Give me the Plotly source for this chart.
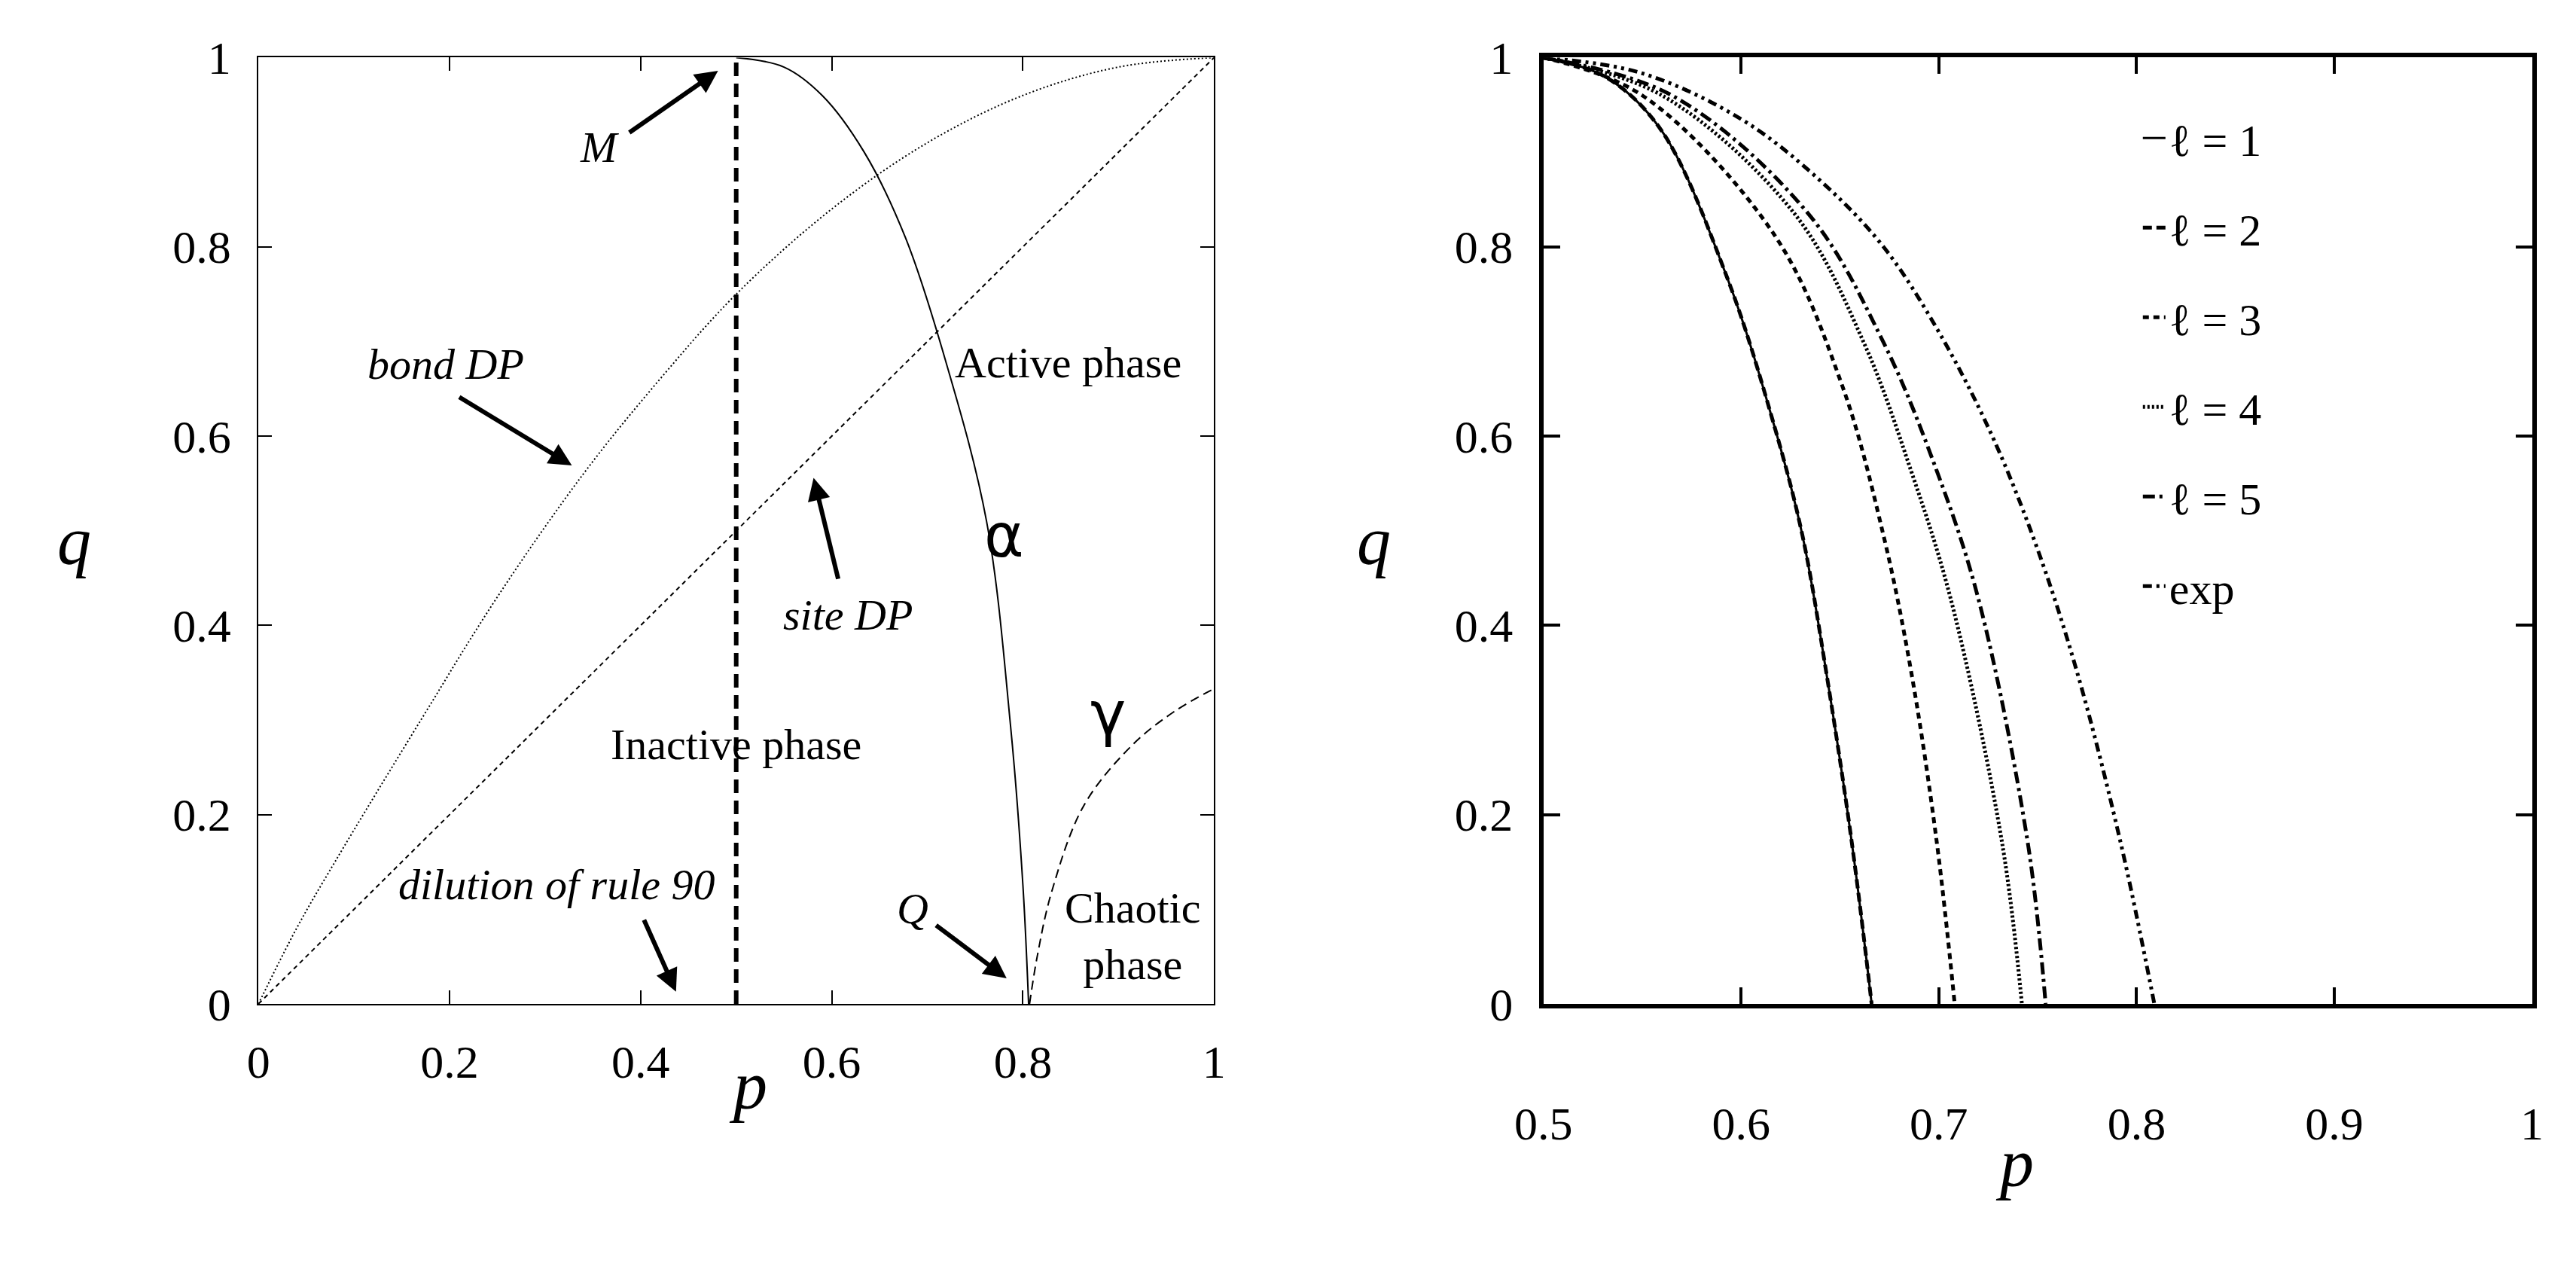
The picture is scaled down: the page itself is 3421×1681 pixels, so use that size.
import plotly.graph_objects as go

# left panel data
bond_p = [0, 0.04, 0.08, 0.17, 0.25, 0.34, 0.42, 0.5, 0.6, 0.7, 0.8, 0.9, 1]
bond_q = [0, 0.08, 0.15, 0.30, 0.43, 0.56, 0.66, 0.75, 0.84, 0.91, 0.96, 0.99, 1]
site_p = [0, 1]
site_q = [0, 1]
alpha_p = [0.5, 0.55, 0.59, 0.634, 0.677, 0.719, 0.762, 0.787, 0.8, 0.806]
alpha_q = [1, 0.99, 0.96, 0.90, 0.81, 0.68, 0.51, 0.295, 0.126, 0]
gamma_p = [0.807, 0.815, 0.83, 0.864, 0.915, 0.96, 1]
gamma_q = [0, 0.05, 0.118, 0.21, 0.274, 0.31, 0.333]
rule90_p = [0.5, 0.5]
rule90_q = [0, 1]

# right panel data
curve_names = ["\u2113 = 1", "\u2113 = 2", "\u2113 = 3", "\u2113 = 4", "\u2113 = 5", "exp"]
curve_p = [
    [0.5, 0.531, 0.559, 0.593, 0.617, 0.631, 0.643, 0.656, 0.666],
    [0.5, 0.531, 0.559, 0.593, 0.617, 0.631, 0.643, 0.656, 0.666],
    [0.5, 0.55, 0.617, 0.651, 0.672, 0.686, 0.699, 0.708],
    [0.5, 0.56, 0.627, 0.662, 0.686, 0.706, 0.732, 0.742],
    [0.5, 0.565, 0.634, 0.672, 0.699, 0.720, 0.745, 0.754],
    [0.5, 0.549, 0.600, 0.640, 0.672, 0.700, 0.727, 0.750, 0.770, 0.792, 0.809],
]
curve_q = [
    [1, 0.98, 0.925, 0.767, 0.609, 0.495, 0.351, 0.17, 0],
    [1, 0.98, 0.925, 0.767, 0.609, 0.495, 0.351, 0.17, 0],
    [1, 0.96, 0.812, 0.654, 0.495, 0.351, 0.17, 0],
    [1, 0.96, 0.835, 0.699, 0.563, 0.428, 0.17, 0],
    [1, 0.96, 0.835, 0.699, 0.563, 0.428, 0.17, 0],
    [1, 0.984, 0.935, 0.87, 0.80, 0.71, 0.60, 0.48, 0.35, 0.17, 0],
]
curve_dash = ["solid", "12px,6px", "8px,6px", "3px,3px", "16px,6px,4px,6px", "12px,6px,4px,6px,4px,6px"]
curve_width = [3, 5, 5, 5, 5, 5]

SERIF = "Liberation Serif"
fig = go.Figure()

fig.add_trace(go.Scatter(x=bond_p, y=bond_q, mode="lines", line=dict(color="black", width=2, dash="2px,3px", shape="spline"), showlegend=False))
fig.add_trace(go.Scatter(x=site_p, y=site_q, mode="lines", line=dict(color="black", width=2, dash="6px,5px"), showlegend=False))
fig.add_trace(go.Scatter(x=alpha_p, y=alpha_q, mode="lines", line=dict(color="black", width=2, shape="spline"), showlegend=False))
fig.add_trace(go.Scatter(x=gamma_p, y=gamma_q, mode="lines", line=dict(color="black", width=2, dash="12px,7px", shape="spline"), showlegend=False))
fig.add_trace(go.Scatter(x=rule90_p, y=rule90_q, mode="lines", line=dict(color="black", width=6, dash="18px,10px"), showlegend=False))

for i in range(len(curve_names)):
    fig.add_trace(go.Scatter(x=curve_p[i], y=curve_q[i], mode="lines", name=curve_names[i],
                             legendgroup=str(i), xaxis="x2", yaxis="y2",
                             line=dict(color="black", width=curve_width[i], dash=curve_dash[i], shape="spline")))

ax_common = dict(showgrid=False, zeroline=False, ticks="inside", mirror="allticks", showline=True,
                 linecolor="black", tickcolor="black", ticklabelstandoff=22,
                 tickfont=dict(family=SERIF, size=62, color="black"))
fig.update_layout(
    width=3421, height=1681, plot_bgcolor="white", paper_bgcolor="white",
    margin=dict(l=0, r=0, t=0, b=0),
    xaxis=dict(domain=[0.088, 0.465], range=[0, 1], tickvals=[0, 0.2, 0.4, 0.6, 0.8, 1],
               ticktext=["0", "0.2", "0.4", "0.6", "0.8", "1"], linewidth=2, tickwidth=2, ticklen=18, **ax_common),
    yaxis=dict(domain=[0.199, 0.978], range=[0, 1], tickvals=[0, 0.2, 0.4, 0.6, 0.8, 1],
               ticktext=["0", "0.2", "0.4", "0.6", "0.8", "1"], linewidth=2, tickwidth=2, ticklen=18, **ax_common),
    xaxis2=dict(domain=[0.595, 0.985], range=[0.5, 1], anchor="y2", tickvals=[0.5, 0.6, 0.7, 0.8, 0.9, 1],
                ticktext=["0.5", "0.6", "0.7", "0.8", "0.9", "1"], linewidth=6, tickwidth=4, ticklen=22, **ax_common),
    yaxis2=dict(domain=[0.199, 0.978], range=[0, 1], anchor="x2", tickvals=[0, 0.2, 0.4, 0.6, 0.8, 1],
                ticktext=["0", "0.2", "0.4", "0.6", "0.8", "1"], linewidth=6, tickwidth=4, ticklen=22, **ax_common),
    legend=dict(x=0.83, y=0.94, xanchor="left", yanchor="top", bgcolor="rgba(0,0,0,0)",
                font=dict(family=SERIF, size=60, color="black"), tracegroupgap=38, itemwidth=30),
)
fig.update_xaxes(ticklabelstandoff=100, selector=dict(anchor="y2"))

ann = []
def txt(x, y, s, size=58, italic=False, family=SERIF, xref="x", yref="y"):
    if italic:
        s = "<i>" + s + "</i>"
    ann.append(dict(x=x, y=y, xref=xref, yref=yref, text=s, showarrow=False,
                    font=dict(family=family, size=size, color="black")))

def arrow(x0, y0, x1, y1):
    ann.append(dict(x=x1, y=y1, ax=x0, ay=y0, xref="x", yref="y", axref="x", ayref="y",
                    text="", showarrow=True, arrowhead=2, arrowsize=1, arrowwidth=6, arrowcolor="black"))

txt(0.357, 0.905, "M", italic=True)
arrow(0.387, 0.92, 0.481, 0.986)
txt(0.196, 0.676, "bond DP", italic=True)
arrow(0.209, 0.642, 0.328, 0.569)
txt(0.617, 0.411, "site DP", italic=True)
arrow(0.607, 0.448, 0.581, 0.556)
txt(0.847, 0.678, "Active phase")
txt(0.78, 0.495, "\u03b1", size=80, family="DejaVu Sans")
txt(0.889, 0.307, "\u03b3", size=80, family="DejaVu Sans")
txt(0.5, 0.274, "Inactive phase")
txt(0.312, 0.126, "dilution of rule 90", italic=True)
arrow(0.403, 0.09, 0.437, 0.013)
txt(0.685, 0.101, "Q", italic=True)
arrow(0.708, 0.084, 0.783, 0.027)
txt(0.915, 0.072, "Chaotic<br>phase")
txt(0.273, 0.10, "p", size=90, italic=True, xref="paper", yref="paper")
txt(0.008, 0.58, "q", size=90, italic=True, xref="paper", yref="paper")
txt(0.789, 0.036, "p", size=90, italic=True, xref="paper", yref="paper")
txt(0.528, 0.58, "q", size=90, italic=True, xref="paper", yref="paper")
fig.update_layout(annotations=ann)

fig.write_html("out.html")
